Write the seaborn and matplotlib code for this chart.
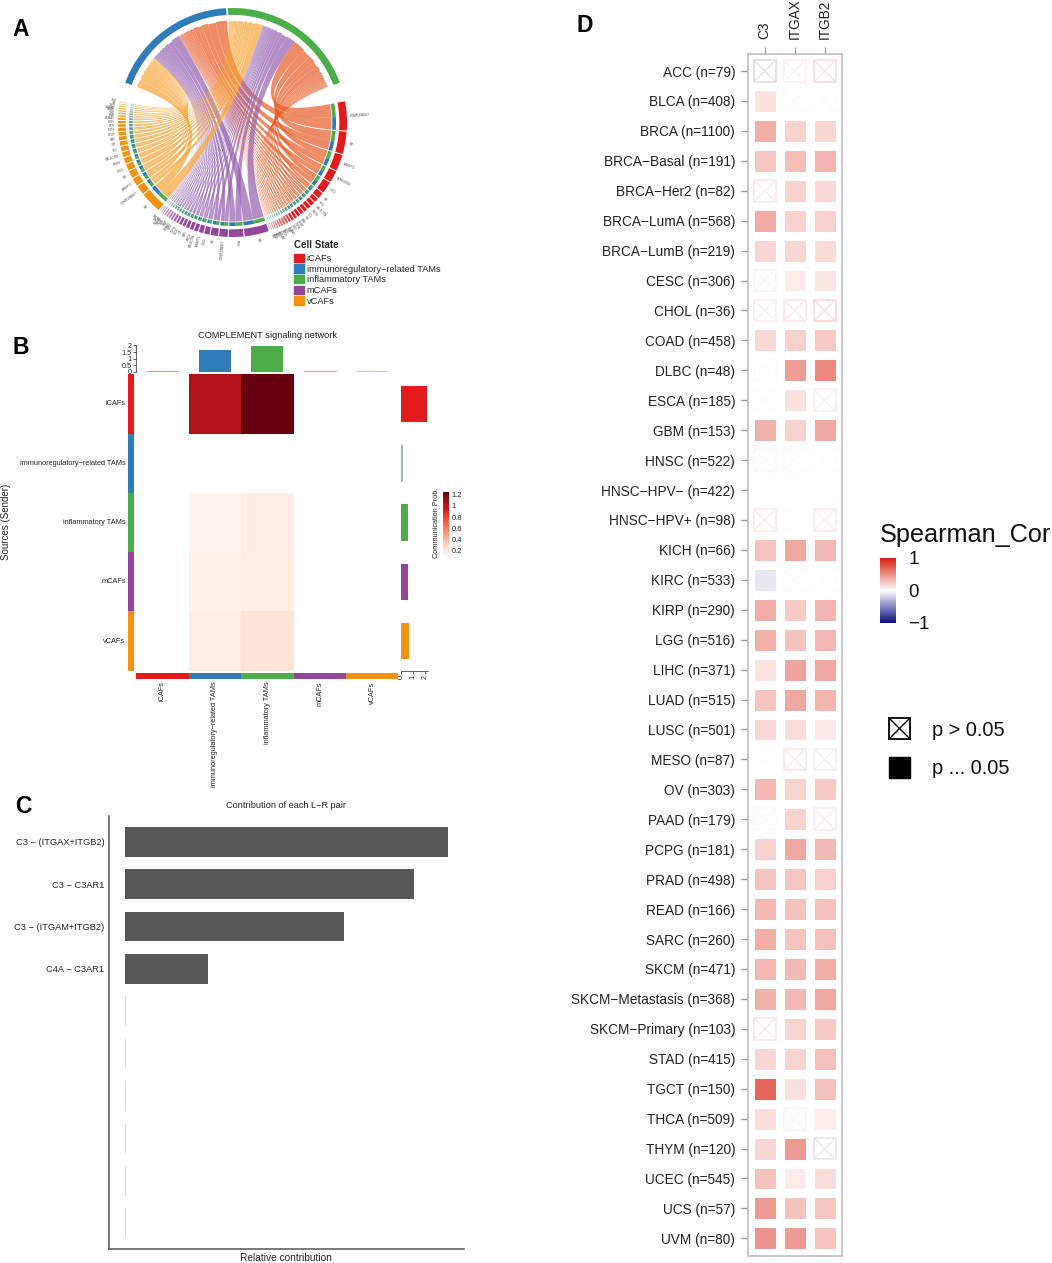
import numpy as np
import pandas as pd
import matplotlib
matplotlib.use('Agg')
import matplotlib.pyplot as plt
import seaborn as sns
from matplotlib.colors import LinearSegmentedColormap, ListedColormap, to_rgb
from matplotlib.patches import Patch, PathPatch, Rectangle
from matplotlib.path import Path

W, H = 1052, 1263

# ---- cores e estados celulares
cell_states = ['iCAFs', 'immunoregulatory−related TAMs', 'inflammatory TAMs', 'mCAFs', 'vCAFs']
state_colors = ['#E41A1C', '#2F7DB8', '#4BAE4A', '#94479A', '#F39210']

# ---- painel A: vias de cada grupo emissor (sentido horário)
icaf_paths = ['COMPLEMENT', 'MIF', 'ANGPTL', 'PERIOSTIN', 'CXCL', 'MK', 'PTN', 'GALECTIN', 'PROS', 'CCL', 'IGF', 'GAS',
              'VEGF', 'TGFb', 'GRN', 'SEMA3', 'BMP', 'HGF', 'PDGF', 'TWEAK', 'NRG', 'KIT', 'FGF', 'EGF']
icaf_vals = [17, 13, 9.5, 6.8, 6.8, 3.5, 2.5, 2.3, 2.1, 1.9, 1.8, 1.6, 1.5, 1.4, 1.2, 1.1, 1, .9, .8, .7, .6, .5, .4, .3]
mcaf_paths = ['MIF', 'PTN', 'COMPLEMENT', 'MK', 'CXCL', 'ANGPTL', 'GALECTIN', 'PROS', 'GAS', 'IGF', 'VEGF', 'TGFb',
              'GRN', 'SEMA3', 'BMP', 'HGF', 'PDGF', 'TWEAK', 'NRG', 'KIT']
mcaf_vals = [14, 8.5, 5, 4.3, 3, 2.6, 2.2, 2, 1.8, 1.6, 1.5, 1.3, 1.2, 1.1, 1, .9, .8, .6, .5, .4]
vcaf_paths = ['MIF', 'COMPLEMENT', 'ANGPTL', 'MK', 'CXCL', 'PROS', 'GALECTIN', 'CCL', 'IGF', 'GAS', 'VEGF', 'TGFb',
              'PTN', 'GRN', 'SEMA3', 'BMP', 'HGF', 'PDGF', 'TWEAK', 'NRG', 'KIT', 'FGF']
vcaf_vals = [14, 5.8, 5.2, 4.7, 4.2, 3.6, 3.2, 3, 2.8, 2.5, 2.2, 2, 1.7, 1.5, 1.3, 1.1, 1, .9, .8, .7, .6, .5]
green_share = 0.52
ribbon_colors = {'iCAFs': '#E75B26', 'mCAFs': '#9460B0', 'vCAFs': '#F5A437'}

# ---- painel B: rede de sinalização
heat_vals = [[np.nan, 1.05, 1.25, np.nan, np.nan],
             [np.nan, np.nan, np.nan, np.nan, np.nan],
             [np.nan, 0.11, 0.16, np.nan, np.nan],
             [np.nan, 0.14, 0.17, np.nan, np.nan],
             [np.nan, 0.165, 0.23, np.nan, np.nan]]
top_bars = [0.08, 1.65, 1.95, 0.08, 0.08]
right_bars = [2.17, 0.1, 0.55, 0.58, 0.65]
heat_ticks = [0.2, 0.4, 0.6, 0.8, 1, 1.2]
heat_tick_labels = ['0.2', '0.4', '0.6', '0.8', '1', '1.2']

# ---- painel C: contribuição de cada par L-R
pair_labels = ['C3 − (ITGAX+ITGB2)', 'C3 − C3AR1', 'C3 − (ITGAM+ITGB2)', 'C4A − C3AR1',
               ' ', '  ', '   ', '    ', '     ', '      ']
pair_vals = [0.353, 0.316, 0.240, 0.091, 0.0012, 0.0012, 0.0012, 0.0012, 0.0012, 0.0012]

# ---- painel D: correlação de Spearman por tumor
tumors = ['ACC (n=79)', 'BLCA (n=408)', 'BRCA (n=1100)', 'BRCA−Basal (n=191)', 'BRCA−Her2 (n=82)',
          'BRCA−LumA (n=568)', 'BRCA−LumB (n=219)', 'CESC (n=306)', 'CHOL (n=36)', 'COAD (n=458)',
          'DLBC (n=48)', 'ESCA (n=185)', 'GBM (n=153)', 'HNSC (n=522)', 'HNSC−HPV− (n=422)',
          'HNSC−HPV+ (n=98)', 'KICH (n=66)', 'KIRC (n=533)', 'KIRP (n=290)', 'LGG (n=516)',
          'LIHC (n=371)', 'LUAD (n=515)', 'LUSC (n=501)', 'MESO (n=87)', 'OV (n=303)',
          'PAAD (n=179)', 'PCPG (n=181)', 'PRAD (n=498)', 'READ (n=166)', 'SARC (n=260)',
          'SKCM (n=471)', 'SKCM−Metastasis (n=368)', 'SKCM−Primary (n=103)', 'STAD (n=415)', 'TGCT (n=150)',
          'THCA (n=509)', 'THYM (n=120)', 'UCEC (n=545)', 'UCS (n=57)', 'UVM (n=80)']
genes = ['C3', 'ITGAX', 'ITGB2']
c3_cor = [-.12, .13, .36, .25, .08, .38, .18, -.03, .07, .17, .02, .01, .34, .03, .005, .09, .26, -.10, .37, .34,
          .12, .26, .17, .01, .31, .03, .20, .26, .32, .36, .32, .34, .10, .18, .68, .15, .18, .27, .45, .47]
itgax_cor = [.06, .02, .20, .29, .20, .20, .18, .09, .10, .21, .43, .13, .21, .02, .005, .01, .39, .02, .24, .27,
             .41, .39, .15, .10, .19, .20, .39, .25, .27, .26, .31, .32, .19, .19, .14, .04, .46, .09, .27, .45]
itgb2_cor = [.13, .02, .18, .33, .17, .20, .16, .11, .15, .23, .53, .07, .39, .02, .005, .09, .31, .02, .33, .32,
             .39, .33, .10, -.06, .24, .08, .31, .21, .28, .28, .36, .39, .24, .28, .27, .09, -.09, .15, .25, .26]
# 1 = p > 0.05 (quadrado com X)
c3_ns = [1, 0, 0, 0, 1, 0, 0, 1, 1, 0, 1, 1, 0, 1, 1, 1, 0, 0, 0, 0, 0, 0, 0, 1, 0, 1, 0, 0, 0, 0, 0, 0, 1, 0, 0, 0, 0, 0, 0, 0]
itgax_ns = [1, 1, 0, 0, 0, 0, 0, 0, 1, 0, 0, 0, 0, 1, 1, 1, 0, 1, 0, 0, 0, 0, 0, 1, 0, 0, 0, 0, 0, 0, 0, 0, 0, 0, 0, 1, 0, 0, 0, 0]
itgb2_ns = [1, 1, 0, 0, 0, 0, 0, 0, 1, 0, 0, 1, 0, 1, 1, 1, 0, 1, 0, 0, 0, 0, 0, 1, 0, 1, 0, 0, 0, 0, 0, 0, 0, 0, 0, 0, 1, 0, 0, 0]

sns.set_theme(style='white')
plt.rcParams['font.family'] = ['Liberation Sans', 'DejaVu Sans']

fig = plt.figure(figsize=(W / 100, H / 100), dpi=100)


def px_ax(x0, y0, x1, y1, **kw):
    # eixos posicionados em pixels da imagem
    return fig.add_axes([x0 / W, 1 - y1 / H, (x1 - x0) / W, (y1 - y0) / H], **kw)


def pt(theta, r):
    t = np.radians(theta)
    return np.array([r * np.sin(t), r * np.cos(t)])


def arc_pts(a0, a1, r, n=12):
    return [pt(t, r) for t in np.linspace(a0, a1, n)]


def ribbon(ax, a0, a1, b0, b1, r_s, r_t, color, z):
    # fita entre arco de origem (a0,a1) e de destino (b0,b1), passando perto do centro
    verts, codes = [], []
    src = arc_pts(a0, a1, r_s)
    verts += src
    codes += [Path.MOVETO] + [Path.LINETO] * (len(src) - 1)
    verts += [np.zeros(2), pt(b0, r_t)]
    codes += [Path.CURVE3] * 2
    verts += arc_pts(b0, b1, r_t, 6)[1:]
    codes += [Path.LINETO] * 5
    verts += [np.zeros(2), pt(a0, r_s)]
    codes += [Path.CURVE3] * 2
    ax.add_patch(PathPatch(Path(verts, codes), fc=color, ec='none', alpha=0.7, zorder=z))


def band(ax, a0, a1, r0, r1, color, z=5, alpha=1.0):
    pts = arc_pts(a0, a1, r1, 30) + arc_pts(a1, a0, r0, 30)
    ax.fill(*zip(*pts), color=color, lw=0, zorder=z, alpha=alpha)


def clean_bars(ax, vals, limit):
    # as barras muito finas ficam mais claras e com contorno da mesma cor
    for p, v, c in zip(ax.patches, vals, state_colors):
        rgb = tuple(float(x) for x in 0.6 * np.array(to_rgb(c)) + 0.4)
        if v < limit:
            p.set_facecolor(rgb)
            p.set_edgecolor(rgb)
            p.set_linewidth(0.5)
        else:
            p.set_facecolor(c)
            p.set_edgecolor('none')
            p.set_linewidth(0)


# ================ painel A ================
ax_a = px_ax(118, 8, 347, 237)
ax_a.set_xlim(-1, 1)
ax_a.set_ylim(-1, 1)
ax_a.axis('off')

band(ax_a, -69.6, -3.2, 0.94, 1.0, state_colors[1])
band(ax_a, -2.3, 69.6, 0.94, 1.0, state_colors[2])

groups = [('iCAFs', icaf_paths, icaf_vals, 79.3, 160.8, state_colors[0]),
          ('mCAFs', mcaf_paths, mcaf_vals, 161.6, 219.6, state_colors[3]),
          ('vCAFs', vcaf_paths, vcaf_vals, 220.2, 280.5, state_colors[4])]
# posição de cada grupo dentro dos setores superiores
green_slots = {'vCAFs': (-2.3, 17.4), 'mCAFs': (17.4, 37.7), 'iCAFs': (37.7, 69.6)}
blue_slots = {'vCAFs': (-69.6, -50.6), 'mCAFs': (-50.6, -31.9), 'iCAFs': (-31.9, -3.2)}
# feixes que cruzam num ponto (ordem crescente) e feixes paralelos (ordem decrescente)
green_ascending = {'iCAFs': True, 'mCAFs': False, 'vCAFs': False}
blue_ascending = {'iCAFs': False, 'mCAFs': False, 'vCAFs': True}

for z, (name, labels, vals, start, end, col) in zip([2, 3, 4], groups):
    vals = np.array(vals, dtype=float)
    gap = 0.55
    scale = (end - start - gap * (len(vals) - 1)) / vals.sum()
    widths = vals * scale
    g0, g1 = green_slots[name]
    b0, b1 = blue_slots[name]
    g_pos = g0 if green_ascending[name] else g1
    b_pos = b0 if blue_ascending[name] else b1
    g_scale = (g1 - g0) / (vals.sum() * green_share)
    b_scale = (b1 - b0) / (vals.sum() * (1 - green_share))
    a = start
    for i, (lab, v, wd) in enumerate(zip(labels, vals, widths)):
        mid = a + wd * green_share
        fade = min(1.0, 0.3 + v / 2.2)
        band(ax_a, a, a + wd, 0.933, 1.0, col, alpha=fade)
        band(ax_a, a, mid, 0.872, 0.904, state_colors[2], alpha=fade)
        band(ax_a, mid, a + wd, 0.872, 0.904, state_colors[1], alpha=fade)
        jag = 0.007 * (i % 2)
        # fita para os TAMs inflamatórios
        gw = v * green_share * g_scale
        if green_ascending[name]:
            ribbon(ax_a, a, mid, g_pos, g_pos + gw, 0.865, 0.89 - jag, ribbon_colors[name], z)
            g_pos += gw
        else:
            ribbon(ax_a, a, mid, g_pos - gw, g_pos, 0.865, 0.89 - jag, ribbon_colors[name], z)
            g_pos -= gw
        # fita para os TAMs imunorregulatórios
        bw = v * (1 - green_share) * b_scale
        if blue_ascending[name]:
            ribbon(ax_a, mid, a + wd, b_pos, b_pos + bw, 0.865, 0.89 - jag, ribbon_colors[name], z)
            b_pos += bw
        else:
            ribbon(ax_a, mid, a + wd, b_pos - bw, b_pos, 0.865, 0.89 - jag, ribbon_colors[name], z)
            b_pos -= bw
        # rótulo radial
        th = a + wd / 2
        x, y = pt(th, 1.03)
        if th < 180:
            ax_a.text(x, y, lab, fontsize=2.1, color='#444444', rotation=90 - th, rotation_mode='anchor',
                      ha='left', va='center')
        else:
            ax_a.text(x, y, lab, fontsize=2.1, color='#444444', rotation=270 - th, rotation_mode='anchor',
                      ha='right', va='center')
        a += wd + gap

handles = [Patch(color=c, label=s) for c, s in zip(state_colors, cell_states)]
leg = fig.legend(handles=handles, title='Cell State', loc='upper left', bbox_to_anchor=(294 / W, 1 - 240 / H),
                 frameon=False, fontsize=6.7, title_fontproperties={'weight': 'bold', 'size': 7}, alignment='left',
                 borderpad=0, borderaxespad=0, handlelength=1.08, handleheight=1.0, handletextpad=0.3,
                 labelspacing=0.14)
leg._legend_box.sep = 2.7

# ================ painel B ================
ax_hm = px_ax(136.3, 374.3, 398.3, 670.7)
cax_b = px_ax(443.3, 492, 449, 556)
sns.heatmap(pd.DataFrame(heat_vals, index=cell_states, columns=cell_states), ax=ax_hm, cmap='Reds', vmin=0.105,
            vmax=1.25, cbar_ax=cax_b, xticklabels=False, yticklabels=False, cbar_kws={'ticks': heat_ticks})
cbar_b = ax_hm.collections[0].colorbar
cbar_b.outline.set_visible(False)
cbar_b.ax.set_yticklabels(heat_tick_labels)
cbar_b.ax.tick_params(length=0, labelsize=5.4, pad=2, colors='#222222')

ax_top = px_ax(136.3, 345, 398.3, 372)
sns.barplot(x=cell_states, y=top_bars, color=state_colors[0], width=0.61, ax=ax_top, saturation=1, errorbar=None)
clean_bars(ax_top, top_bars, 0.1)
ax_top.set_xlim(-0.5, 4.5)
ax_top.set_ylim(0, 2.03)
ax_top.set_yticks([0, 0.5, 1, 1.5, 2], ['0', '0.5', '1', '1.5', '2'])
ax_top.set_xticks([])
ax_top.tick_params(axis='y', labelsize=5.2, length=2.2, width=0.5, pad=1, left=True, colors='#222222')
sns.despine(ax=ax_top, bottom=True)
ax_top.spines['left'].set_linewidth(0.5)
ax_top.spines['left'].set_color('#222222')

ax_right = px_ax(401.2, 374.3, 428, 670.7)
sns.barplot(y=cell_states, x=right_bars, color=state_colors[0], width=0.61, ax=ax_right, orient='h', saturation=1,
            errorbar=None)
clean_bars(ax_right, right_bars, 0.2)
ax_right.set_ylim(4.5, -0.5)
ax_right.set_xlim(0, 2.23)
ax_right.set_xticks([0, 1, 2], ['0', '1', '2'])
ax_right.set_yticks([])
ax_right.tick_params(axis='x', labelsize=5.2, length=2.2, width=0.5, pad=1, labelrotation=90, bottom=True,
                     colors='#222222')
sns.despine(ax=ax_right, left=True)
ax_right.spines['bottom'].set_linewidth(0.5)
ax_right.spines['bottom'].set_color('#222222')

strip_cmap = ListedColormap(state_colors)
ax_sl = px_ax(128.3, 374.3, 133.7, 670.7)
sns.heatmap(np.arange(5).reshape(-1, 1), cmap=strip_cmap, cbar=False, ax=ax_sl, xticklabels=False,
            yticklabels=cell_states)
ax_sl.tick_params(axis='y', length=0, labelsize=5.35, pad=2, labelrotation=0, colors='#222222')

ax_sb = px_ax(136.3, 673.3, 398.3, 678.7)
sns.heatmap(np.arange(5).reshape(1, -1), cmap=strip_cmap, cbar=False, ax=ax_sb, yticklabels=False,
            xticklabels=cell_states)
ax_sb.tick_params(axis='x', length=0, labelsize=5.35, pad=2, labelrotation=90, colors='#222222')

# ================ painel C ================
ax_c = px_ax(109, 816, 463.7, 1248.7)
sns.barplot(x=pair_vals, y=pair_labels, color='#565856', width=0.7, ax=ax_c, saturation=1, orient='h', errorbar=None)
for i, p in enumerate(ax_c.patches):
    p.set_edgecolor('none')
    p.set_linewidth(0)
    if i >= 4:
        p.set_facecolor('#dedede')
ax_c.set_xlim(-16 / 914, 338.7 / 914)
ax_c.set_ylim(9.6, -0.606)
ax_c.set_xticks([])
ax_c.tick_params(axis='y', length=0, labelsize=6.7, pad=3.5, colors='#222222')
sns.despine(ax=ax_c)
for s in ['left', 'bottom']:
    ax_c.spines[s].set_color('#555555')
    ax_c.spines[s].set_linewidth(1.1)

# ================ painel D ================
cor_df = pd.DataFrame({'C3': c3_cor, 'ITGAX': itgax_cor, 'ITGB2': itgb2_cor}, index=tumors)[genes]
ns_df = pd.DataFrame({'C3': c3_ns, 'ITGAX': itgax_ns, 'ITGB2': itgb2_ns}, index=tumors)[genes]
cor_cmap = LinearSegmentedColormap.from_list('cor', ['#0B0B7E', '#FFFFFF', '#D9200F'])

ax_d = px_ax(747.7, 54, 842, 1255.7)
cax_d = px_ax(880, 558, 896, 623)
sns.heatmap(cor_df, mask=ns_df.astype(bool), cmap=cor_cmap, vmin=-1, vmax=1, linewidths=6.4, linecolor='white',
            ax=ax_d, cbar_ax=cax_d, cbar_kws={'ticks': [-1, 0, 1]})
ax_d.set_xlim(-0.067, 3.077)
ax_d.set_ylim(40.08, -0.068)
cbar_d = ax_d.collections[0].colorbar
cbar_d.outline.set_visible(False)
cbar_d.ax.set_yticklabels(['−1', '0', '1'])
cbar_d.ax.tick_params(length=0, labelsize=13.5, pad=9, colors='#111111')

# celulas nao significativas: contorno e X
hw = 0.365
for r, tumor in enumerate(tumors):
    for c, g in enumerate(genes):
        if ns_df.loc[tumor, g]:
            col = cor_cmap((cor_df.loc[tumor, g] + 1) / 2)
            cx, cy = c + 0.5, r + 0.5
            ax_d.add_patch(Rectangle((cx - hw, cy - hw), 2 * hw, 2 * hw, fc='white', ec=col, lw=1.4))
            ax_d.plot([cx - hw, cx + hw], [cy - hw, cy + hw], color=col, lw=1)
            ax_d.plot([cx - hw, cx + hw], [cy + hw, cy - hw], color=col, lw=1)

ax_d.xaxis.tick_top()
ax_d.tick_params(axis='x', top=True, bottom=False, length=5, width=0.9, color='#999999', pad=5.5,
                 labelrotation=90, labelsize=9.8, labelcolor='#222222')
ax_d.tick_params(axis='y', left=True, length=5, width=0.9, color='#999999', pad=4, labelrotation=0, labelsize=9.8,
                 labelcolor='#222222')
for lab in ax_d.get_yticklabels():
    lab.set_va('center_baseline')
for s in ax_d.spines.values():
    s.set_visible(True)
    s.set_color('#BDBDBD')
    s.set_linewidth(1.2)

# ================ textos e legenda em pixels ================
over = fig.add_axes([0, 0, 1, 1], facecolor='none')
over.set_xlim(0, W)
over.set_ylim(H, 0)
over.axis('off')

for letter, x, y in [('A', 12, 36), ('B', 13, 354), ('C', 15, 813), ('D', 576, 32)]:
    over.text(x, y, letter, fontsize=16.5, fontweight='bold', color='black', ha='left', va='baseline')

over.text(267, 335, 'COMPLEMENT signaling network', fontsize=6.7, ha='center', va='center', color='#222222')
over.text(6, 522, 'Sources (Sender)', fontsize=7, rotation=90, ha='center', va='center', color='#222222')
over.text(436, 522.7, 'Communication Prob.', fontsize=5.3, rotation=90, ha='center', va='center', color='#222222')
over.text(286, 805.7, 'Contribution of each L−R pair', fontsize=6.6, ha='center', va='center', color='#222222')
over.text(286, 1258, 'Relative contribution', fontsize=7.3, ha='center', va='center', color='#222222')
over.text(880, 535, 'Spearman_Cor', fontsize=18.2, ha='left', va='center', color='#111111')

# legenda de significancia
over.add_patch(Rectangle((889, 718), 21, 21, fc='white', ec='black', lw=1.3))
over.plot([889, 910], [718, 739], color='black', lw=1)
over.plot([889, 910], [739, 718], color='black', lw=1)
over.add_patch(Rectangle((889, 757), 21, 21, fc='black', ec='black', lw=1))
over.text(932, 730, 'p > 0.05', fontsize=14.4, ha='left', va='center', color='#111111')
over.text(932, 769, 'p ... 0.05', fontsize=14.4, ha='left', va='center', color='#111111')

fig.savefig('out.png', dpi=100)
